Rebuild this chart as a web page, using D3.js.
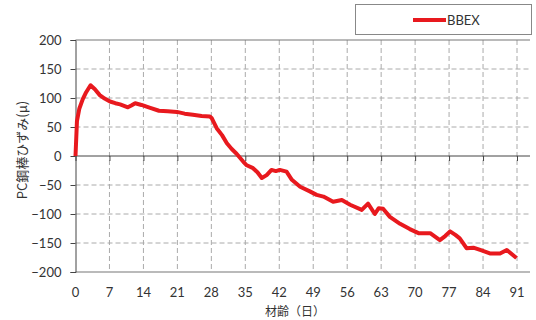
<!DOCTYPE html>
<html>
<head>
<meta charset="utf-8">
<script src="https://cdn.jsdelivr.net/npm/d3@7"></script>
<style>
  body { margin: 0; background: #fff; }
  svg { display: block; }
  .tick text { font-family: Lato, "Open Sans", sans-serif; font-size: 13px; fill: #333; }
</style>
</head>
<body>
<svg id="chart" width="536" height="320"></svg>
<script>
// day (材齢) and strain readings
const days = [0, 0.3, 0.8, 1.5, 2.2, 3.1, 4.0, 5.0, 6.0, 7.1, 8.2, 9.2, 10.8, 11.5, 12.3, 13.6, 15.4, 17.2,
  19.0, 20.9, 22.5, 24.2, 26.0, 27.7, 28.1, 29.1, 30.2, 31.2, 32.2, 33.2, 34.6, 35.3, 36.6, 37.5, 38.4,
  39.4, 40.4, 41.3, 42.1, 43.5, 44.6, 46.3, 48.3, 49.7, 51.1, 53.1, 54.9, 56.6, 59.0, 60.3, 61.7,
  62.5, 63.4, 64.8, 66.9, 68.9, 70.7, 73.1, 75.1, 76.2, 77.2, 78.3, 79.2, 80.6, 82.0, 83.4, 85.4,
  87.5, 88.9, 90.9];
const strain = [0, 60, 82, 98, 110, 122, 115, 105, 99, 94, 91, 89, 84, 87, 91, 88, 83, 78,
  77, 76, 73, 71, 69, 68, 65, 48, 36, 22, 12, 4, -10, -16, -21, -28, -38,
  -33, -24, -26, -24, -27, -41, -53, -61, -67, -70, -79, -76, -84, -93, -82, -100,
  -90, -91, -105, -117, -126, -133, -133, -145, -138, -130, -136, -142, -159, -158, -162, -168,
  -168, -162, -176];
const yTicks = [-200, -150, -100, -50, 0, 50, 100, 150, 200];
const xTicks = [0, 7, 14, 21, 28, 35, 42, 49, 56, 63, 70, 77, 84, 91];
const seriesName = 'BBEX';

(function () {
  const svg = d3.select('#chart');
  const pl = 75.5, pr = 530, pt = 40, pb = 272;

  const x = d3.scaleLinear().domain([0, 91]).range([pl, 517]);
  const y = d3.scaleLinear().domain([-200, 200]).range([pb, pt]);

  // grid
  svg.append('g')
    .selectAll('line')
    .data(yTicks.filter(function (d) { return d !== 0 && d !== 200 && d !== -200; }))
    .enter().append('line')
    .attr('x1', pl).attr('x2', pr)
    .attr('y1', function (d) { return y(d); })
    .attr('y2', function (d) { return y(d); })
    .attr('stroke', '#aaa')
    .attr('stroke-dasharray', '5,3');

  svg.append('g')
    .selectAll('line')
    .data(xTicks.slice(1))
    .enter().append('line')
    .attr('x1', function (d) { return x(d); })
    .attr('x2', function (d) { return x(d); })
    .attr('y1', pt).attr('y2', pb)
    .attr('stroke', '#aaa')
    .attr('stroke-dasharray', '5,3');

  // plot frame
  svg.append('line').attr('x1', pl).attr('x2', pr).attr('y1', pt).attr('y2', pt)
    .attr('stroke', '#777').attr('stroke-width', 1.2);
  svg.append('line').attr('x1', pl).attr('x2', pr).attr('y1', pb).attr('y2', pb)
    .attr('stroke', '#777').attr('stroke-width', 1.2);

  // y axis
  const yAxis = svg.append('g')
    .attr('transform', 'translate(' + pl + ',0)')
    .call(d3.axisLeft(y).tickValues(yTicks).tickSize(5).tickPadding(9));
  yAxis.selectAll('line, path').attr('stroke', '#444');

  // x axis at zero, labels below the frame
  const xAxis = svg.append('g')
    .attr('transform', 'translate(0,' + y(0) + ')')
    .call(d3.axisBottom(x).tickValues(xTicks).tickSize(5).tickSizeOuter(0));
  xAxis.select('.domain').attr('d', 'M' + pl + ',0H' + pr).attr('stroke', '#444');
  xAxis.selectAll('line').attr('stroke', '#444');
  xAxis.selectAll('text').remove();

  svg.append('g')
    .selectAll('text')
    .data(xTicks)
    .enter().append('text')
    .attr('x', function (d) { return x(d); })
    .attr('y', 297)
    .attr('text-anchor', 'middle')
    .attr('font-family', 'Lato, "Open Sans", sans-serif')
    .attr('font-size', 13)
    .attr('fill', '#333')
    .text(function (d) { return d; });

  // line
  const line = d3.line()
    .x(function (d, i) { return x(days[i]); })
    .y(function (d) { return y(d); });

  svg.append('path')
    .datum(strain)
    .attr('fill', 'none')
    .attr('stroke', '#e8191e')
    .attr('stroke-width', 4)
    .attr('stroke-linejoin', 'round')
    .attr('d', line);

  // axis titles
  svg.append('text')
    .attr('x', 295).attr('y', 316)
    .attr('text-anchor', 'middle')
    .attr('font-family', '"Noto Sans CJK JP", sans-serif')
    .attr('font-size', 12)
    .attr('fill', '#333')
    .text('材齢（日）');

  svg.append('text')
    .attr('transform', 'translate(27,150) rotate(-90)')
    .attr('text-anchor', 'middle')
    .attr('font-family', '"Noto Sans CJK JP", sans-serif')
    .attr('font-size', 13)
    .attr('fill', '#333')
    .text('PC鋼棒ひずみ(μ)');

  // legend
  const lg = svg.append('g');
  lg.append('rect')
    .attr('x', 355.5).attr('y', 4.5).attr('width', 176).attr('height', 30)
    .attr('fill', '#fff').attr('stroke', '#888');
  lg.append('line')
    .attr('x1', 413).attr('x2', 446).attr('y1', 20).attr('y2', 20)
    .attr('stroke', '#e8191e').attr('stroke-width', 4);
  lg.append('text')
    .attr('x', 447).attr('y', 25)
    .attr('font-family', 'Lato, "Open Sans", sans-serif')
    .attr('font-size', 13)
    .attr('fill', '#333')
    .text(seriesName);
})();
</script>
</body>
</html>
